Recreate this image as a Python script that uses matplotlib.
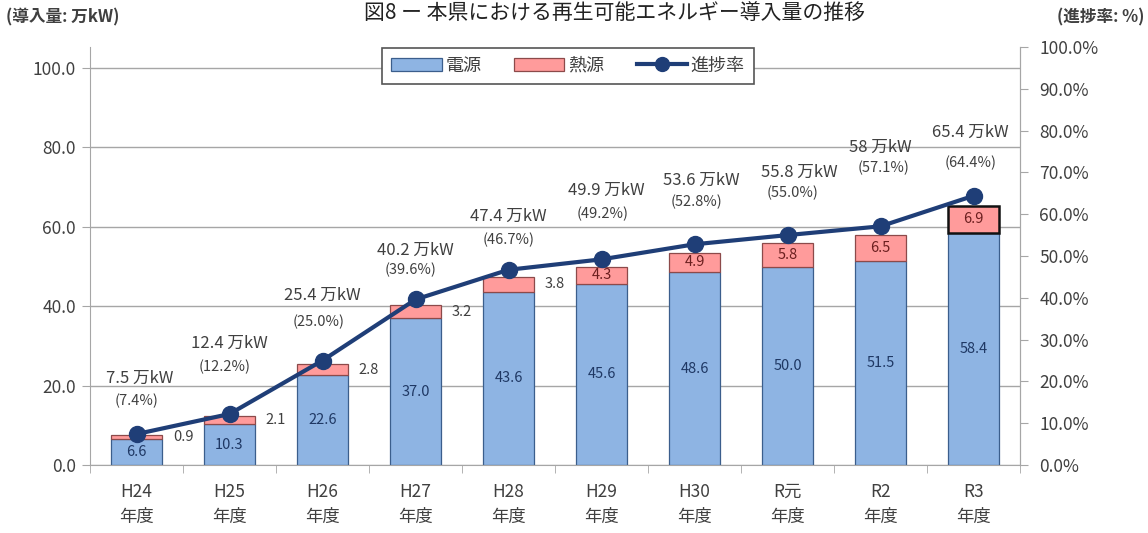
import matplotlib
matplotlib.use("Agg")
import matplotlib.pyplot as plt
from matplotlib.lines import Line2D
from matplotlib.patches import Patch

plt.rcParams['font.family'] = ['Noto Sans CJK JP', 'DejaVu Sans']

# ---- data ----
categories = ["H24\n年度", "H25\n年度", "H26\n年度", "H27\n年度", "H28\n年度",
              "H29\n年度", "H30\n年度", "R元\n年度", "R2\n年度", "R3\n年度"]
power = [6.6, 10.3, 22.6, 37.0, 43.6, 45.6, 48.6, 50.0, 51.5, 58.4]
heat = [0.9, 2.1, 2.8, 3.2, 3.8, 4.3, 4.9, 5.8, 6.5, 6.9]
progress = [7.4, 12.2, 25.0, 39.6, 46.7, 49.2, 52.8, 55.0, 57.1, 64.4]
total_labels = ["7.5", "12.4", "25.4", "40.2", "47.4", "49.9", "53.6", "55.8", "58", "65.4"]
left_ticks = [0, 20, 40, 60, 80, 100]
right_ticks = [0, 10, 20, 30, 40, 50, 60, 70, 80, 90, 100]

# ---- layout (pixel offsets of the total labels above each marker) ----
off_top = [56, 71, 65, 49, 53, 69, 64, 63, 79, 63]
off_bot = [33, 47, 39, 30, 30, 45, 42, 42, 58, 33]
dx_top = [3, 0, 0, 0, 0, 5, 7, 12, 0, -3]
dx_bot = [0, -5, -4, -5, 0, 1, 2, 5, 3, -3]

BLUE = "#8EB4E3"
PINK = "#FF9B9B"
NAVY = "#1F3E77"
GRID = "#A6A6A6"
TXT = "#404040"

fig = plt.figure(figsize=(11.48, 5.33), dpi=100)
ax = fig.add_axes([90/1148, 1-465/533, 930/1148, 418/533])
ax2 = ax.twinx()

x = list(range(len(categories)))
w = 0.54
ax.bar(x, power, width=w, color=BLUE, edgecolor="#3B5E8C", linewidth=0.9, zorder=2)
heat_edges = ["#8C4A4A"] * (len(x) - 1) + ["#111111"]
heat_lw = [0.9] * (len(x) - 1) + [1.8]
ax.bar(x, heat, width=w, bottom=power, color=PINK, edgecolor=heat_edges,
       linewidth=heat_lw, zorder=2)

ax.set_xlim(-0.5, len(x) - 0.5)
ax.set_ylim(0, 105.3)
ax.set_yticks(left_ticks)
ax.set_yticklabels([f"{v:.1f}" for v in left_ticks], fontsize=12.5, color=TXT)
ax.yaxis.grid(True, color=GRID, linewidth=1.0, zorder=0)
ax.set_axisbelow(True)
ax.tick_params(axis='y', length=6, color=GRID, pad=4)

ax.set_xticks(x)
ax.set_xticklabels(categories, fontsize=12.5, color=TXT, linespacing=1.5)
ax.tick_params(axis='x', which='major', length=0, pad=13)
ax.set_xticks([i - 0.5 for i in range(len(x) + 1)], minor=True)
ax.tick_params(axis='x', which='minor', length=6, color=GRID)

for s in ["left", "bottom", "right"]:
    ax.spines[s].set_color(GRID)
ax.spines["top"].set_visible(False)
ax2.spines["top"].set_visible(False)
ax2.spines["right"].set_color(GRID)
ax2.spines["left"].set_visible(False)
ax2.spines["bottom"].set_visible(False)

# bar value labels
for i in x:
    ax.text(i, power[i] / 2, f"{power[i]:.1f}", ha="center", va="center",
            fontsize=10.5, color="#1F3864", zorder=5)
    if i < 5:
        ax.text(i + 0.5, power[i] + heat[i] / 2, f"{heat[i]:.1f}", ha="center",
                va="center", fontsize=10.5, color=TXT, zorder=5)
    else:
        ax.text(i, power[i] + heat[i] / 2, f"{heat[i]:.1f}", ha="center",
                va="center", fontsize=10.5, color="#6B1F1F", zorder=5)

# progress line
ax2.plot(x, progress, color=NAVY, linewidth=3, marker="o", markersize=11.5,
         markerfacecolor=NAVY, markeredgecolor=NAVY, zorder=4)
ax2.set_ylim(0, 100)
ax2.set_yticks(right_ticks)
ax2.set_yticklabels([f"{v:.1f}%" for v in right_ticks], fontsize=12.5, color=TXT)
ax2.tick_params(axis='y', length=6, color=GRID, pad=8)
ax.set_zorder(1)
ax.patch.set_visible(False)
ax2.set_zorder(2)
ax2.patch.set_visible(False)

for i in x:
    ax2.annotate(f"{total_labels[i]} 万kW", (i, progress[i]),
                 xytext=(dx_top[i] * 0.72, off_top[i] * 0.72), textcoords="offset points",
                 ha="center", va="center", fontsize=12, color=TXT, zorder=6)
    ax2.annotate(f"({progress[i]:.1f}%)", (i, progress[i]),
                 xytext=(dx_bot[i] * 0.72, off_bot[i] * 0.72), textcoords="offset points",
                 ha="center", va="center", fontsize=10.5, color=TXT, zorder=6)

handles = [Patch(facecolor=BLUE, edgecolor="#3B5E8C", linewidth=0.9),
           Patch(facecolor=PINK, edgecolor="#8C4A4A", linewidth=0.9),
           Line2D([0], [0], color=NAVY, linewidth=3, marker="o", markersize=10)]
leg = ax2.legend(handles, ["電源", "熱源", "進捗率"], loc="center",
                 bbox_to_anchor=(0.514, 0.955), ncol=3, fontsize=13, frameon=True,
                 fancybox=False, edgecolor="#555555", framealpha=1,
                 handlelength=2.8, handleheight=0.7, handletextpad=0.2,
                 columnspacing=1.8, borderpad=0.5, labelcolor=TXT)
leg.get_frame().set_linewidth(1.2)
leg.set_zorder(10)

fig.text(0.005, 1 - 17/533, "(導入量: 万kW)", fontsize=12, fontweight="bold",
         color=TXT, ha="left", va="center")
fig.text(0.997, 1 - 17/533, "(進捗率: %)", fontsize=12, fontweight="bold",
         color=TXT, ha="right", va="center")
fig.text(0.535, 1 - 19/533, "図8 ー 本県における再生可能エネルギー導入量の推移",
         fontsize=15, color="#222222", ha="center", va="baseline")

fig.savefig("out.png", dpi=100)
